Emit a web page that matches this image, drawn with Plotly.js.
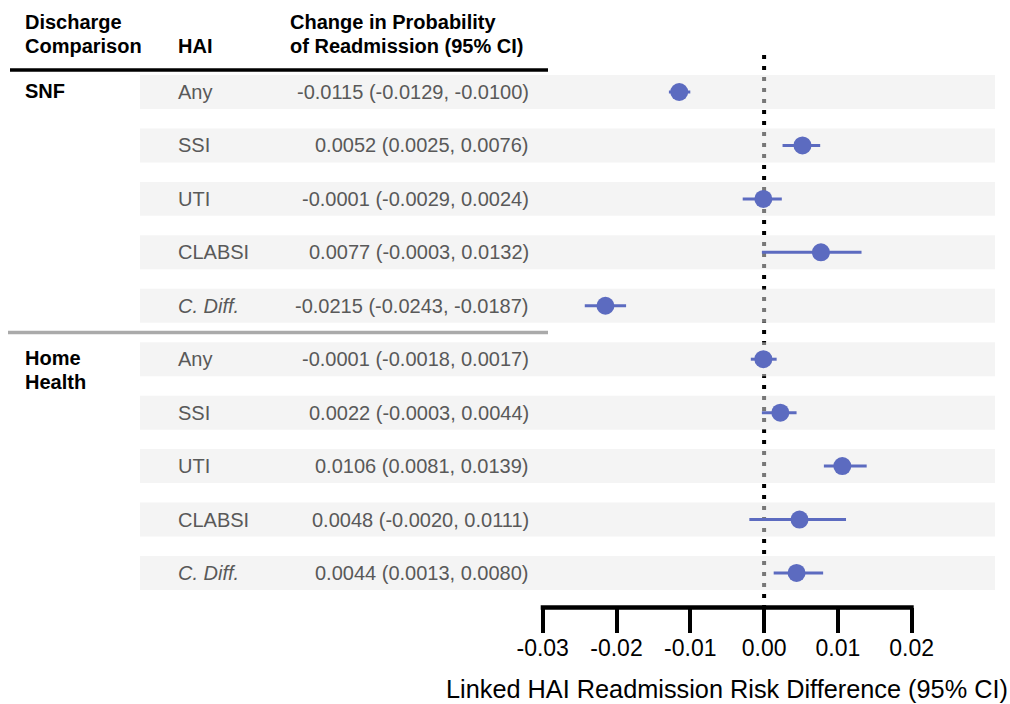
<!DOCTYPE html>
<html>
<head>
<meta charset="utf-8">
<script src="https://cdn.plot.ly/plotly-3.0.1.min.js"></script>
<style>html,body{margin:0;padding:0;background:#fff;}#chart{width:1010px;height:704px;}</style>
</head>
<body>
<div id="chart"></div>
<script>
// ---------- data ----------
const GROUPS = ['SNF', 'Home Health'];
const GROUP_LINES = [['SNF'], ['Home', 'Health']];
const HAI = ['Any', 'SSI', 'UTI', 'CLABSI', 'C. Diff.'];
const SNF_EST = [-0.0115, 0.0052, -0.0001, 0.0077, -0.0215];
const SNF_LO  = [-0.0129, 0.0025, -0.0029, -0.0003, -0.0243];
const SNF_HI  = [-0.0100, 0.0076, 0.0024, 0.0132, -0.0187];
const HH_EST  = [-0.0001, 0.0022, 0.0106, 0.0048, 0.0044];
const HH_LO   = [-0.0018, -0.0003, 0.0081, -0.0020, 0.0013];
const HH_HI   = [0.0017, 0.0044, 0.0139, 0.0111, 0.0080];
const TICK_VALUES = [-0.03, -0.02, -0.01, 0.00, 0.01, 0.02];
const TICK_LABELS = ['-0.03', '-0.02', '-0.01', '0.00', '0.01', '0.02'];
const HEADER_COL1 = ['Discharge', 'Comparison'];
const HEADER_COL2 = ['HAI'];
const HEADER_COL3 = ['Change in Probability', 'of Readmission (95% CI)'];
const X_TITLE = 'Linked HAI Readmission Risk Difference (95% CI)';

// ---------- layout geometry ----------
const W = 1010, H = 704;
const FONT = 'Liberation Sans, Arial, Helvetica, sans-serif';
const PX_LEFT = 140, PX_RIGHT = 995;           // plot (band) horizontal extent
const PX_TICK_FIRST = 542.7, PX_TICK_LAST = 911.7;
const PX_TOP = 55, PX_BOTTOM = 607;            // plot vertical extent
const PX_ROW0 = 92, ROW_STEP = 53.44;
const pxPerUnit = (PX_TICK_LAST - PX_TICK_FIRST) / (TICK_VALUES[TICK_VALUES.length-1] - TICK_VALUES[0]);
const XMIN = TICK_VALUES[0] - (PX_TICK_FIRST - PX_LEFT) / pxPerUnit;
const XMAX = TICK_VALUES[TICK_VALUES.length-1] + (PX_RIGHT - PX_TICK_LAST) / pxPerUnit;
const YTOP = (PX_TOP - PX_ROW0) / ROW_STEP;
const YBOT = (PX_BOTTOM - PX_ROW0) / ROW_STEP;
const px = v => v / W, py = v => (H - v) / H;

const COLOR = '#5c6bc0';
const TEXT_GRAY = '#595959';

// rows
const est = SNF_EST.concat(HH_EST);
const lo = SNF_LO.concat(HH_LO);
const hi = SNF_HI.concat(HH_HI);
const rows = est.map((_, i) => i);
const haiRow = HAI.concat(HAI);

const trace = {
  type: 'scatter', mode: 'markers',
  x: est, y: rows,
  marker: {color: COLOR, size: 18},
  error_x: {
    type: 'data', symmetric: false,
    array: hi.map((h, i) => h - est[i]),
    arrayminus: lo.map((l, i) => est[i] - l),
    color: COLOR, thickness: 3, width: 0
  },
  hoverinfo: 'x', showlegend: false, cliponaxis: false
};

const shapes = [];
// dotted reference line at 0
shapes.push({type: 'line', xref: 'x', yref: 'y', x0: 0, x1: 0, y0: YTOP, y1: YBOT,
  layer: 'below', line: {color: '#000', width: 4, dash: '4px,7px'}});
// row bands (semi-transparent, drawn over the dotted line)
rows.forEach(r => shapes.push({type: 'rect', xref: 'x', yref: 'y', x0: XMIN, x1: XMAX,
  y0: r - 0.318, y1: r + 0.318, layer: 'below', fillcolor: 'rgb(233,233,233)', opacity: 0.51,
  line: {width: 0}}));
// axis baseline spanning tick range
const half = 2 / pxPerUnit;
shapes.push({type: 'line', xref: 'x', yref: 'paper', x0: TICK_VALUES[0] - half, x1: TICK_VALUES[TICK_VALUES.length-1] + half,
  y0: py(PX_BOTTOM + 0.5), y1: py(PX_BOTTOM + 0.5), line: {color: '#000', width: 4.5}});
// header rule
shapes.push({type: 'line', xref: 'paper', yref: 'paper', x0: px(10), x1: px(548), y0: py(70), y1: py(70),
  line: {color: '#000', width: 3.5}});
// group separator
shapes.push({type: 'line', xref: 'paper', yref: 'paper', x0: px(8), x1: px(548), y0: py(332.5), y1: py(332.5),
  line: {color: '#aaaaaa', width: 3.5}});

const annotations = [];
const addText = (text, xPx, yPx, opts) => annotations.push(Object.assign({
  text, xref: 'paper', yref: 'paper', x: px(xPx), y: py(yPx), xanchor: 'left', yanchor: 'middle',
  showarrow: false, font: {family: FONT, size: 20, color: '#000'}
}, opts || {}));

// headers
HEADER_COL1.forEach((t, k) => addText('<b>' + t + '</b>', 23, 22 + 24 * k));
HEADER_COL2.forEach((t, k) => addText('<b>' + t + '</b>', 176, 46 + 24 * k));
HEADER_COL3.forEach((t, k) => addText('<b>' + t + '</b>', 288, 22 + 24 * k));

// group labels
GROUP_LINES.forEach((lines, g) => lines.forEach((t, k) => annotations.push({
  text: '<b>' + t + '</b>', xref: 'paper', yref: 'y', x: px(23), y: g * HAI.length, yshift: -24 * k + 1,
  xanchor: 'left', yanchor: 'middle', showarrow: false, font: {family: FONT, size: 20, color: '#000'}
})));

// row labels & estimate text
rows.forEach(r => {
  const lab = haiRow[r] === 'C. Diff.' ? '<i>' + haiRow[r] + '</i>' : haiRow[r];
  annotations.push({text: lab, xref: 'paper', yref: 'y', x: px(176), y: r, xanchor: 'left', yanchor: 'middle',
    showarrow: false, font: {family: FONT, size: 20, color: TEXT_GRAY}});
  const s = est[r].toFixed(4) + ' (' + lo[r].toFixed(4) + ', ' + hi[r].toFixed(4) + ')';
  annotations.push({text: s, xref: 'paper', yref: 'y', x: px(531), y: r, xanchor: 'right', yanchor: 'middle',
    showarrow: false, font: {family: FONT, size: 20, color: TEXT_GRAY}});
});

// x-axis title
annotations.push({text: X_TITLE, xref: 'paper', yref: 'paper', x: px((PX_TICK_FIRST + PX_TICK_LAST) / 2), y: py(689),
  xanchor: 'center', yanchor: 'middle', showarrow: false, font: {family: FONT, size: 25.3, color: '#000'}});

const layout = {
  width: W, height: H,
  margin: {l: 0, r: 0, t: 0, b: 0, pad: 0},
  paper_bgcolor: '#fff', plot_bgcolor: 'rgba(0,0,0,0)',
  font: {family: FONT},
  showlegend: false,
  xaxis: {
    domain: [px(PX_LEFT), px(PX_RIGHT)], range: [XMIN, XMAX],
    tickmode: 'array', tickvals: TICK_VALUES, ticktext: TICK_LABELS,
    ticks: 'outside', ticklen: 25, tickwidth: 4, tickcolor: '#000',
    ticklabelstandoff: -5,
    tickfont: {family: FONT, size: 23, color: '#000'},
    showline: false, showgrid: false, zeroline: false, fixedrange: true
  },
  yaxis: {
    domain: [py(PX_BOTTOM), py(PX_TOP)], range: [YBOT, YTOP],
    showticklabels: false, ticks: '', showgrid: false, zeroline: false, showline: false, fixedrange: true
  },
  shapes, annotations
};

Plotly.newPlot('chart', [trace], layout, {displayModeBar: false, staticPlot: true});
</script>
</body>
</html>
